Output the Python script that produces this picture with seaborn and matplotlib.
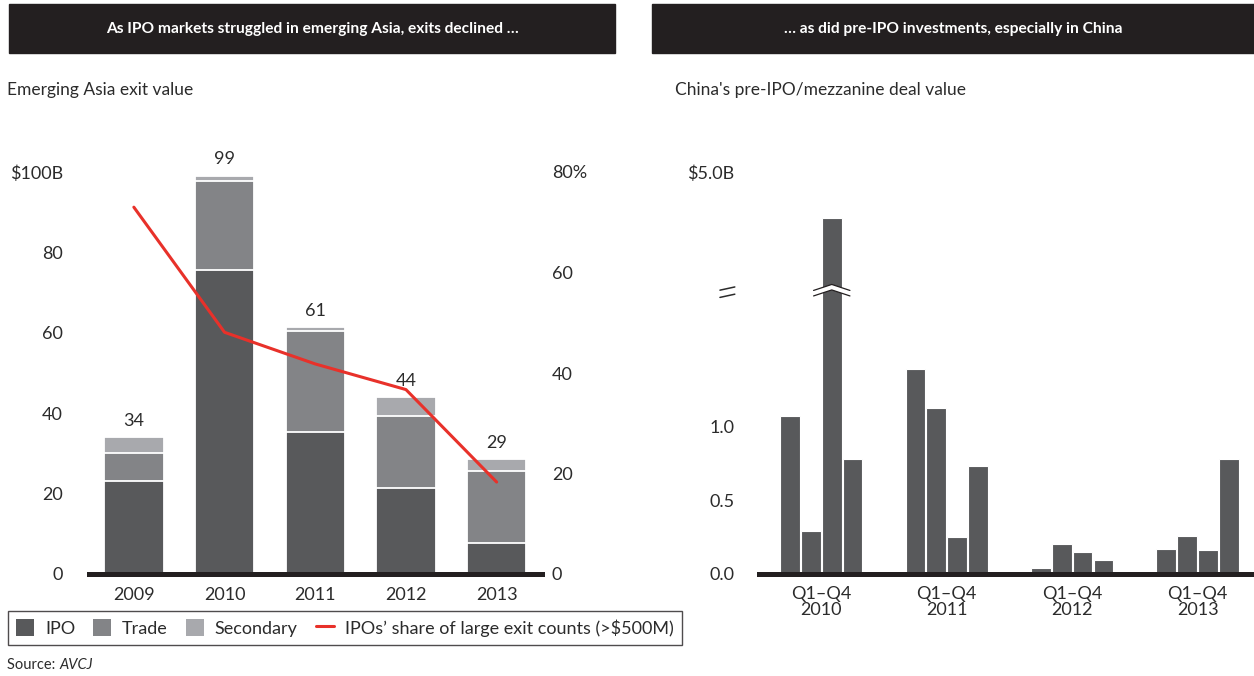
import numpy as np
import pandas as pd
import matplotlib
matplotlib.use("Agg")
import matplotlib.pyplot as plt
import seaborn as sns
from matplotlib.patches import Rectangle, Patch, Polygon
from matplotlib.lines import Line2D
from matplotlib import transforms

# ---------------- data ----------------
years = ["2009", "2010", "2011", "2012", "2013"]
ipo = [23.2, 75.6, 35.2, 21.3, 7.6]
trade = [6.9, 22.2, 25.3, 18.1, 18.0]
secondary = [4.0, 1.3, 0.9, 4.6, 3.0]
ipo_share = [73.0, 48.1, 41.8, 36.7, 18.3]

deal_years = ["2010", "2011", "2012", "2013"]
quarters = ["Q1", "Q2", "Q3", "Q4"]
deal_value = [1.07, 0.29, 3.82, 0.78,
              1.39, 1.12, 0.25, 0.73,
              0.04, 0.20, 0.15, 0.095,
              0.17, 0.26, 0.16, 0.78]

left_yticks = [0, 20, 40, 60, 80, 100]
left_ylabels = ["0", "20", "40", "60", "80", "$100B"]
right_yticks = [0, 20, 40, 60, 80]
right_ylabels = ["0", "20", "40", "60", "80%"]
deal_yticks = [0.0, 0.5, 1.0, 5.0]
deal_ylabels = ["0.0", "0.5", "1.0", "$5.0B"]

# ---------------- style ----------------
C_IPO = "#58595b"
C_TRADE = "#838487"
C_SEC = "#a8a9ad"
C_RED = "#e8312a"
C_DARK = "#231f20"
C_TEXT = "#2b2b2b"

sns.set_style("white")
plt.rcParams["font.family"] = ["Lato", "DejaVu Sans"]
plt.rcParams["text.color"] = C_TEXT
plt.rcParams["xtick.color"] = C_TEXT
plt.rcParams["ytick.color"] = C_TEXT

W, H = 1254, 676
fig = plt.figure(figsize=(W / 100, H / 100), dpi=100)

def fx(px):
    return px / W

def fy(py):
    return 1 - py / H

# ---------------- headers ----------------
for x0, x1, txt in [(9, 615, "As IPO markets struggled in emerging Asia, exits declined \u2026"),
                    (652, 1254, "\u2026 as did pre-IPO investments, especially in China")]:
    fig.patches.append(Rectangle((fx(x0), fy(53)), fx(x1 - x0), 49 / H,
                                 transform=fig.transFigure, color=C_DARK, zorder=0))
    fig.text(fx((x0 + x1) / 2), fy(28.5), txt, color="white", fontsize=11.2,
             fontweight="bold", ha="center", va="center")

fig.text(fx(7), fy(90), "Emerging Asia exit value", fontsize=12.5, va="center", ha="left")
fig.text(fx(675), fy(90), "China's pre-IPO/mezzanine deal value", fontsize=12.5,
         va="center", ha="left")

# ---------------- left chart ----------------
df = pd.DataFrame({"year": years, "ipo": ipo, "trade": trade, "secondary": secondary})
df["ipo_trade"] = df["ipo"] + df["trade"]
df["total"] = df["ipo_trade"] + df["secondary"]

ax = fig.add_axes([fx(88.5), fy(574), fx(542 - 88.5), (574 - 172) / H])
for col, colr in [("total", C_SEC), ("ipo_trade", C_TRADE), ("ipo", C_IPO)]:
    sns.barplot(data=df, x="year", y=col, color=colr, saturation=1, width=0.655,
                edgecolor="white", linewidth=1.3, errorbar=None, ax=ax)
ax.bar_label(ax.containers[0], labels=[f"{v:.0f}" for v in df["total"]],
             padding=6, fontsize=13, color=C_TEXT)
ax.set_xlim(-0.5, 4.5)
ax.set_ylim(0, 100)
ax.set_yticks(left_yticks)
ax.set_yticklabels(left_ylabels)
ax.set_xlabel("")
ax.set_ylabel("")
for s in ["left", "top", "right"]:
    ax.spines[s].set_visible(False)
ax.spines["bottom"].set_linewidth(3.6)
ax.spines["bottom"].set_color(C_DARK)
ax.tick_params(axis="y", length=0, pad=18.5, labelsize=13)
ax.tick_params(axis="x", length=0, pad=9, labelsize=13)

ax2 = ax.twinx()
sns.lineplot(x=np.arange(len(years)), y=ipo_share, color=C_RED, linewidth=2.2, ax=ax2)
ax2.set_ylim(0, 80)
ax2.set_yticks(right_yticks)
ax2.set_yticklabels(right_ylabels)
ax2.set_ylabel("")
for s in ["left", "top", "right", "bottom"]:
    ax2.spines[s].set_visible(False)
ax2.tick_params(axis="y", length=0, pad=7, labelsize=13)

# ---------------- right chart ----------------
order = []
rows = []
for gi, yr in enumerate(deal_years):
    for q in quarters:
        order.append(f"{q} {yr}")
    if gi < len(deal_years) - 1:
        order += [" " * (2 * gi + 1), " " * (2 * gi + 2)]
for gi, yr in enumerate(deal_years):
    for qi, q in enumerate(quarters):
        rows.append({"slot": f"{q} {yr}", "value": deal_value[gi * 4 + qi]})
dfq = pd.DataFrame(rows)

axr = fig.add_axes([fx(758.6), fy(574), 1 - fx(758.6), (574 - 172) / H])
sns.barplot(data=dfq, x="slot", y="value", order=order, color=C_IPO, saturation=1,
            width=0.94, edgecolor="white", linewidth=0.8, errorbar=None, ax=axr)

BREAK = 1.9
COMP = 0.2645

def fwd(y):
    y = np.asarray(y, dtype=float)
    return np.where(y <= BREAK, y, BREAK + (y - BREAK) * COMP)

def inv(y):
    y = np.asarray(y, dtype=float)
    return np.where(y <= BREAK, y, BREAK + (y - BREAK) / COMP)

axr.set_yscale("function", functions=(fwd, inv))
axr.set_ylim(0, 5.0)
axr.set_yticks(deal_yticks)
axr.set_yticklabels(deal_ylabels)
axr.yaxis.set_minor_locator(matplotlib.ticker.NullLocator())
centers = [order.index(f"Q2 {yr}") + 0.5 for yr in deal_years]
axr.set_xticks(centers)
axr.set_xticklabels([f"Q1\u2013Q4\n{yr}" for yr in deal_years], linespacing=0.95)
axr.set_xlim(-1.5, 22.2)
axr.set_xlabel("")
axr.set_ylabel("")
for s in ["left", "top", "right"]:
    axr.spines[s].set_visible(False)
axr.spines["bottom"].set_linewidth(3.6)
axr.spines["bottom"].set_color(C_DARK)
axr.tick_params(axis="y", length=0, pad=17.5, labelsize=13)
axr.tick_params(axis="x", length=0, pad=9, labelsize=13)

# axis break marks
yb = float(fwd(BREAK) / fwd(5.0))
trans = transforms.blended_transform_factory(axr.transData, axr.transAxes)
c = order.index("Q3 2010")
hw = 0.87
h = 6 / 402
g = 5.5 / 402
top_end = yb + g / 2
bot_end = yb - g / 2
poly = Polygon([(c - hw, top_end), (c, top_end + h), (c + hw, top_end),
                (c + hw, bot_end), (c, bot_end + h), (c - hw, bot_end)],
               closed=True, facecolor="white", edgecolor="none", transform=trans,
               zorder=5, clip_on=False)
axr.add_patch(poly)
for e in (top_end, bot_end):
    axr.add_line(Line2D([c - hw, c, c + hw], [e, e + h, e], color=C_DARK, lw=0.9,
                        transform=trans, zorder=6, clip_on=False))
# "=" style break sign next to the y tick labels
for dy in (0.009, -0.009):
    axr.add_line(Line2D([-0.078, -0.048], [yb + dy + 0.0025 - 0.004, yb + dy + 0.0025 + 0.004],
                        color=C_TEXT, lw=1.1, transform=axr.transAxes, clip_on=False))

# ---------------- legend ----------------
handles = [Patch(facecolor=C_IPO, edgecolor="none"),
           Patch(facecolor=C_TRADE, edgecolor="none"),
           Patch(facecolor=C_SEC, edgecolor="none"),
           Line2D([0], [0], color=C_RED, lw=2.2)]
labels = ["IPO", "Trade", "Secondary", "IPOs\u2019 share of large exit counts (>$500M)"]
leg = fig.legend(handles, labels, loc="upper left", bbox_to_anchor=(fx(8), fy(611)),
                 ncol=4, frameon=True, fancybox=False, edgecolor=C_DARK,
                 fontsize=13, handlelength=1.0, handleheight=1.0, handletextpad=0.6,
                 columnspacing=1.0, borderpad=0.45, borderaxespad=0)
leg.get_frame().set_linewidth(1.0)

# ---------------- source ----------------
t1 = fig.text(fx(7), fy(665), "Source: ", fontsize=10.5, va="center", ha="left")
fig.canvas.draw()
bb = t1.get_window_extent(renderer=fig.canvas.get_renderer())
fig.text(bb.x1 / W, fy(665), "AVCJ", fontsize=10.5, style="italic", va="center", ha="left")

fig.savefig("out.png", dpi=100)
